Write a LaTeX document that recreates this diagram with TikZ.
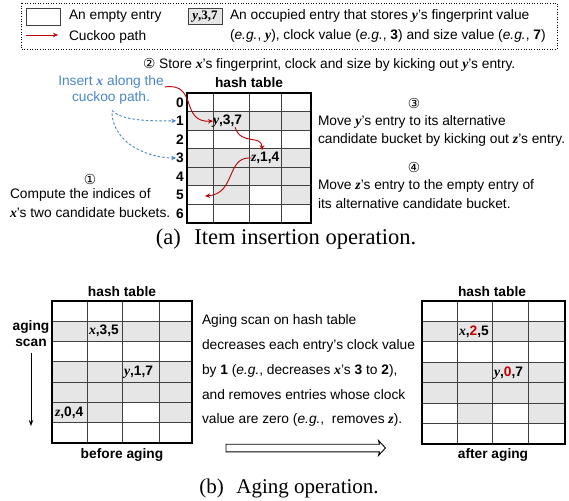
\documentclass[tikz,border=0pt]{standalone}
\usepackage{fontspec}
\setmainfont{Liberation Sans}
\newfontfamily\serifface{Liberation Serif}
\newfontfamily\circface{DejaVu Sans}
\usetikzlibrary{arrows.meta,calc}
\definecolor{cellgrey}{HTML}{E6E6E6}
\definecolor{pathred}{HTML}{C00000}
\definecolor{noteblue}{HTML}{4A86C8}
\definecolor{gridgrey}{HTML}{404040}
% variable names (x, y, z) in bold italic serif
\newcommand\tv[1]{{\serifface\bfseries\itshape #1}}
% one hash table: five column edges, top and bottom
\newcommand\hashgrid[7]{%
  \pgfmathsetmacro\rowh{(#7-#6)/7}%
  \fill[cellgrey] (#1,{#6+\rowh}) rectangle (#5,{#6+2*\rowh});
  \fill[cellgrey] (#1,{#6+3*\rowh}) rectangle (#5,{#6+5*\rowh});
  \fill[cellgrey] (#2,{#6+5*\rowh}) rectangle (#3,{#6+6*\rowh});
  \fill[cellgrey] (#4,{#6+5*\rowh}) rectangle (#5,{#6+6*\rowh});
  \foreach \k in {1,...,6} \draw[gridline] (#1,{#6+\k*\rowh}) -- (#5,{#6+\k*\rowh});
  \foreach \c in {#2,#3,#4} \draw[gridline] (\c,#6) -- (\c,#7);
  \draw[frameline] (#1,#6) rectangle (#5,#7);
}
\begin{document}
\begin{tikzpicture}[x=1pt,y=-1pt,
  txt/.style={font=\fontsize{13.75}{16}\selectfont, inner sep=0pt, outer sep=0pt},
  hdr/.style={font=\fontsize{13.75}{16}\selectfont\bfseries, inner sep=0pt, outer sep=0pt},
  celltxt/.style={font=\fontsize{13.75}{16}\selectfont\bfseries, inner sep=0pt, outer sep=0pt, anchor=west},
  captiontxt/.style={font=\serifface\fontsize{21}{24}\selectfont, inner sep=0pt},
  gridline/.style={draw=gridgrey, line width=0.8pt},
  frameline/.style={draw=black, line width=1.8pt},
  cuckoo/.style={draw=pathred, line width=0.9pt, -{Stealth[length=5pt,width=4.5pt]}},
  hint/.style={draw=noteblue, line width=0.9pt, dash pattern=on 2.5pt off 2pt, -{Stealth[length=5pt,width=4.5pt]}},
]
\useasboundingbox (0,0) rectangle (569,500);

% ---------- legend ----------
\draw[line width=0.6pt, dotted] (21,3) rectangle (557,49);
\draw[draw=gridgrey, line width=0.9pt] (26,8) rectangle (60,25);
\node[txt, anchor=west] (lgempty) at (69,16) {An empty entry};
\coordinate (lgA) at (26,35);
\coordinate (lgB) at (58,35);
\draw[cuckoo] (lgA) -- (lgB);
\node[txt, anchor=west] (lgpath) at (69,37) {Cuckoo path};
\node[draw=gridgrey, fill=cellgrey, line width=0.9pt, inner sep=1.5pt, minimum height=16pt, minimum width=34pt,
      font=\serifface\fontsize{13}{14}\selectfont\bfseries] (lgcell) at (205,16.5) {\textit{y},3,7};
\node[txt, anchor=west] (lgocc1) at (230,16) {An occupied entry that stores \tv{y}'s fingerprint value};
\node[txt, anchor=west] (lgocc2) at (230,36) {(\textit{e.g.}, \tv{y}), clock value (\textit{e.g.}, \textbf{3}) and size value (\textit{e.g.}, \textbf{7})};

% ---------- (a) item insertion ----------
\node[txt, anchor=west] (step2) at (143,65) {{\circface ②} Store \tv{x}'s fingerprint, clock and size by kicking out \tv{y}'s entry.};
\node[hdr] (httop) at (249,83) {hash table};
\hashgrid{187}{213}{249}{281}{311}{93}{223}
\foreach \i in {0,...,6}
  \node[hdr] (r\i) at (180,{102.3+\i*18.57}) {\i};
\node[celltxt] (ycell) at (213,121) {\tv{y},3,7};
\node[celltxt] (zcell) at (251,158) {\tv{z},1,4};
\coordinate (zdest) at (205,196);

\node[txt, text=noteblue] (ins1) at (111,82) {Insert \tv{x} along the};
\node[txt, text=noteblue] (ins2) at (111,98) {cuckoo path.};
\draw[hint] ($(ins2.south)+(1,6)$) .. controls (122,121) and (150,121) .. (r1.west);
\draw[hint] ($(ins2.south)+(1,9)$) .. controls (114,145) and (150,158) .. (r3.west);

\draw[cuckoo] ($(ins1.east)+(1,5)$) .. controls (198,82) and (180,123) .. (ycell.west);
\draw[cuckoo] ($(ycell.south east)+(-7,0)$) .. controls (241,146) and (262,134) .. ($(zcell.north west)+(11,-2)$);
\draw[cuckoo] (zcell.west) .. controls (226,156) and (236,194) .. (zdest);

\node[txt] (c1) at (90,179) {\circface ①};
\node[txt, anchor=west] (step1a) at (10,195) {Compute the indices of};
\node[txt, anchor=west] (step1b) at (10,213) {\tv{x}'s two candidate buckets.};
\node[txt] (c3) at (414,103) {\circface ③};
\node[txt, anchor=west] (step3a) at (318,122) {Move \tv{y}'s entry to its alternative};
\node[txt, anchor=west] (step3b) at (318,140) {candidate bucket by kicking out \tv{z}'s entry.};
\node[txt] (c4) at (414,167) {\circface ④};
\node[txt, anchor=west] (step4a) at (318,186) {Move \tv{z}'s entry to the empty entry of};
\node[txt, anchor=west] (step4b) at (318,204) {its alternative candidate bucket.};

\node[captiontxt, font=\serifface\fontsize{22.5}{26}\selectfont] (capa) at (286,239) {(a)\hspace{0.6em}Item insertion operation.};

% ---------- (b) aging ----------
\node[hdr] (htleft) at (122,292) {hash table};
\fill[cellgrey] (52,{301+5*142/7}) rectangle (87,{301+6*142/7});
\hashgrid{52}{87}{122}{159}{192}{301}{443}
\node[celltxt] (xold) at (89,331) {\tv{x},3,5};
\node[celltxt] (yold) at (124,372) {\tv{y},1,7};
\node[celltxt] (zold) at (55,413) {\tv{z},0,4};
\node[hdr] (befl) at (122,455) {before aging};

\node[hdr] (scan1) at (31,327) {aging};
\node[hdr] (scan2) at (31,343) {scan};
\coordinate (scanS) at (31,353);
\coordinate (scanE) at (31,426);
\draw[line width=0.9pt, -{Stealth[length=6pt,width=4.5pt]}] (scanS) -- (scanE);

\node[txt, anchor=west] (ag1) at (202,321) {Aging scan on hash table};
\node[txt, anchor=west] (ag2) at (202,346) {decreases each entry's clock value};
\node[txt, anchor=west] (ag3) at (202,371) {by \textbf{1} (\textit{e.g.}, decreases \tv{x}'s \textbf{3} to \textbf{2}),};
\node[txt, anchor=west] (ag4) at (202,395) {and removes entries whose clock};
\node[txt, anchor=west] (ag5) at (202,420) {value are zero (\textit{e.g.},\ \ removes \tv{z}).};

% hollow arrow from the old table to the new one
\coordinate (agS) at (226,448);
\coordinate (agE) at (385.5,448);
\draw[line width=0.9pt, line join=miter]
  ($(agS)+(0,-3.8)$) -- ($(agE)+(-6,-3.8)$) -- ($(agE)+(-7,-7.5)$) -- (agE)
  -- ($(agE)+(-7,7.5)$) -- ($(agE)+(-6,3.8)$) -- ($(agS)+(0,3.8)$) -- cycle;

\node[hdr] (htright) at (492,292) {hash table};
\hashgrid{422}{457}{492}{528}{565}{301}{444}
\node[celltxt] (xnew) at (459,332) {\tv{x},\textcolor{pathred}{2},5};
\node[celltxt] (ynew) at (494,373) {\tv{y},\textcolor{pathred}{0},7};
\node[hdr] (aftl) at (493,455) {after aging};

\node[captiontxt] (capb) at (289,488) {(b)\hspace{0.6em}Aging operation.};
\end{tikzpicture}
\end{document}
